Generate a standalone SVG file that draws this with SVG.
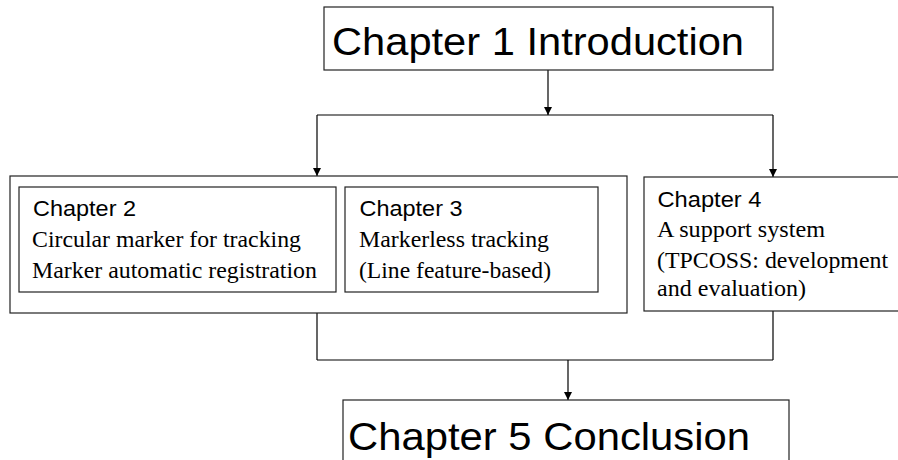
<svg xmlns="http://www.w3.org/2000/svg" width="898" height="460" viewBox="0 0 898 460">
  <style>
    .box { fill: #fff; stroke: #222; stroke-width: 1.2; }
    .line { fill: none; stroke: #000; stroke-width: 1.2; }
    .big { font-family: "Liberation Sans", Arial, sans-serif; font-size: 38px; fill: #000; }
    .head { font-family: "Liberation Sans", Arial, sans-serif; font-size: 21.5px; fill: #000; }
    .body { font-family: "Liberation Serif", "Times New Roman", serif; font-size: 22.5px; fill: #000; }
  </style>
  <defs>
    <marker id="arrow" markerUnits="userSpaceOnUse" markerWidth="9" markerHeight="9" refX="8" refY="4" orient="auto">
      <path d="M0,0 L8,4 L0,8 z" fill="#000"/>
    </marker>
  </defs>
  <rect width="898" height="460" fill="#fff"/>

  <g id="connectors">
    <line class="line" x1="548" y1="70" x2="548" y2="115" marker-end="url(#arrow)"/>
    <line class="line" x1="317" y1="115" x2="773" y2="115"/>
    <line class="line" x1="317" y1="115" x2="317" y2="176" marker-end="url(#arrow)"/>
    <line class="line" x1="773" y1="115" x2="773" y2="177" marker-end="url(#arrow)"/>
    <line class="line" x1="317" y1="313" x2="317" y2="360"/>
    <line class="line" x1="773" y1="311" x2="773" y2="360"/>
    <line class="line" x1="317" y1="360" x2="773" y2="360"/>
    <line class="line" x1="568" y1="360" x2="568" y2="400" marker-end="url(#arrow)"/>
  </g>

  <g id="ch1">
    <rect class="box" x="324" y="7" width="449" height="63"/>
    <text class="big" x="332" y="55" textLength="412" lengthAdjust="spacingAndGlyphs">Chapter 1 Introduction</text>
  </g>

  <g id="group23">
    <rect class="box" x="10" y="176" width="617" height="137"/>
  </g>

  <g id="ch2">
    <rect class="box" x="19" y="187" width="317" height="105"/>
    <text class="head" x="33" y="216" textLength="103" lengthAdjust="spacingAndGlyphs">Chapter 2</text>
    <text class="body" x="32" y="247" textLength="269" lengthAdjust="spacingAndGlyphs">Circular marker for tracking</text>
    <text class="body" x="32" y="278" textLength="285" lengthAdjust="spacingAndGlyphs">Marker automatic registration</text>
  </g>

  <g id="ch3">
    <rect class="box" x="345" y="187" width="253" height="105"/>
    <text class="head" x="359.5" y="216" textLength="103" lengthAdjust="spacingAndGlyphs">Chapter 3</text>
    <text class="body" x="359" y="247" textLength="190" lengthAdjust="spacingAndGlyphs">Markerless tracking</text>
    <text class="body" x="359" y="278" textLength="192" lengthAdjust="spacingAndGlyphs">(Line feature-based)</text>
  </g>

  <g id="ch4">
    <rect class="box" x="644" y="177" width="260" height="134"/>
    <text class="head" x="657.5" y="207" textLength="104" lengthAdjust="spacingAndGlyphs">Chapter 4</text>
    <text class="body" x="657" y="237" textLength="168" lengthAdjust="spacingAndGlyphs">A support system</text>
    <text class="body" x="657" y="268" textLength="231" lengthAdjust="spacingAndGlyphs">(TPCOSS: development</text>
    <text class="body" x="657" y="296" textLength="149" lengthAdjust="spacingAndGlyphs">and evaluation)</text>
  </g>

  <g id="ch5">
    <rect class="box" x="343" y="400" width="446" height="80"/>
    <text class="big" x="348" y="450" textLength="402" lengthAdjust="spacingAndGlyphs">Chapter 5 Conclusion</text>
  </g>
</svg>
